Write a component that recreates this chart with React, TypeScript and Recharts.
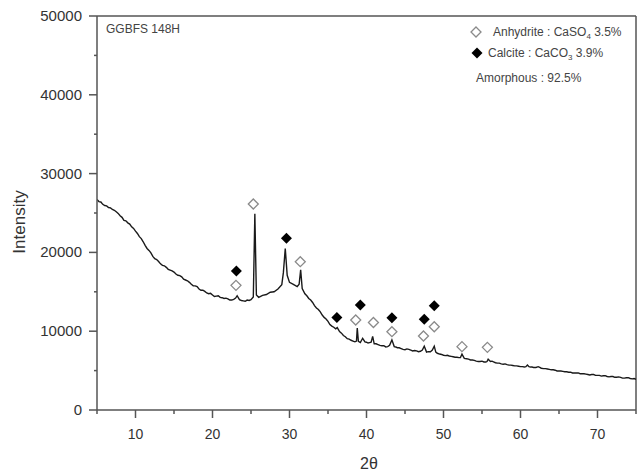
import React from 'react';
import { ComposedChart, Line, Scatter, XAxis, YAxis, ReferenceLine } from 'recharts';

// XRD scan, [2theta, intensity]
const scan: [number, number][] = [
  [5.0, 26700], [5.25, 26450], [5.5, 26400], [5.75, 26100], [6.0, 25950], [6.25, 25900], [6.5, 25700],
  [6.75, 25650], [7.0, 25450], [7.25, 25350], [7.5, 25150], [7.75, 24950], [8.0, 24650], [8.25, 24450],
  [8.5, 24050], [8.75, 24000], [9.0, 23750], [9.25, 23600], [9.5, 23250], [9.75, 23050], [10.0, 22700],
  [10.25, 22400], [10.5, 22000], [10.75, 21750], [11.0, 21350], [11.25, 20900], [11.5, 20500], [11.75, 20250],
  [12.0, 19950], [12.25, 19500], [12.5, 19200], [12.75, 19100], [13.0, 18850], [13.25, 18550], [13.5, 18350],
  [13.75, 18300], [14.0, 18100], [14.25, 17850], [14.5, 17750], [14.75, 17650], [15.0, 17500], [15.25, 17250],
  [15.5, 17100], [15.75, 17050], [16.0, 16900], [16.25, 16600], [16.5, 16500], [16.75, 16400], [17.0, 16200],
  [17.25, 15950], [17.5, 15750], [17.75, 15750], [18.0, 15650], [18.25, 15350], [18.5, 15200], [18.75, 15200],
  [19.0, 15050], [19.25, 14850], [19.5, 14750], [19.75, 14800], [20.0, 14600], [20.25, 14400], [20.5, 14450],
  [20.75, 14500], [21.0, 14300], [21.25, 14250], [21.5, 14150], [21.75, 14200], [22.0, 14100], [22.25, 13950],
  [22.5, 13950], [22.75, 14050], [23.0, 14200], [23.2, 14500], [23.5, 14000], [23.75, 13900], [24.0, 13850],
  [24.25, 13800], [24.5, 13950], [24.75, 13900], [25.0, 14000], [25.3, 14350], [25.5, 24900], [25.7, 14600],
  [26.0, 14300], [26.5, 14550], [27.0, 14650], [27.5, 14950], [28.0, 15000], [28.5, 15350], [29.0, 15900],
  [29.2, 17400], [29.45, 20500], [29.7, 17100], [30.0, 16200], [30.5, 15950], [31.0, 15650], [31.25, 15950],
  [31.45, 17800], [31.65, 15400], [32.0, 14750], [32.25, 14500], [32.5, 14150], [32.75, 13950], [33.0, 13650],
  [33.25, 13250], [33.5, 12950], [33.75, 12750], [34.0, 12450], [34.25, 12050], [34.5, 11750], [34.75, 11550],
  [35.0, 11250], [35.25, 10850], [35.5, 10650], [35.75, 10500], [36.0, 10300], [36.2, 10450], [36.5, 9950],
  [36.75, 9750], [37.0, 9450], [37.25, 9300], [37.5, 9050], [37.75, 9000], [38.0, 8850], [38.25, 8750],
  [38.5, 8650], [38.7, 8750], [38.8, 10400], [38.95, 8700], [39.2, 8550], [39.5, 9100], [39.8, 8650],
  [40.0, 8600], [40.2, 8500], [40.4, 8550], [40.6, 8600], [40.8, 9350], [41.0, 8400], [41.25, 8400],
  [41.5, 8300], [41.75, 8200], [42.0, 8150], [42.25, 8150], [42.5, 8000], [42.75, 8050], [43.0, 8200],
  [43.3, 8900], [43.6, 8050], [43.8, 8000], [44.0, 7900], [44.25, 7900], [44.5, 7800], [44.75, 7700],
  [45.0, 7650], [45.25, 7750], [45.5, 7700], [45.75, 7600], [46.0, 7500], [46.25, 7550], [46.5, 7500],
  [46.75, 7400], [47.0, 7450], [47.25, 7600], [47.5, 8100], [47.8, 7350], [48.0, 7400], [48.3, 7400],
  [48.55, 7600], [48.8, 8100], [49.0, 7350], [49.2, 7200], [49.5, 7100], [49.75, 7050], [50.0, 6950],
  [50.25, 6900], [50.5, 6950], [50.75, 6850], [51.0, 6800], [51.25, 6750], [51.5, 6700], [51.75, 6700],
  [52.0, 6650], [52.2, 6650], [52.4, 7100], [52.7, 6550], [53.0, 6500], [53.25, 6450], [53.5, 6350],
  [53.75, 6350], [54.0, 6300], [54.25, 6200], [54.5, 6150], [54.75, 6150], [55.0, 6200], [55.25, 6100],
  [55.5, 6100], [55.65, 6150], [55.8, 6450], [56.1, 6150], [56.3, 6200], [56.5, 6100], [56.75, 6000],
  [57.0, 5950], [57.25, 5950], [57.5, 5850], [57.75, 5800], [58.0, 5850], [58.25, 5750], [58.5, 5700],
  [58.75, 5700], [59.0, 5650], [59.25, 5600], [59.5, 5600], [59.75, 5550], [60.0, 5500], [60.25, 5500],
  [60.5, 5450], [60.7, 5500], [60.9, 5700], [61.1, 5500], [61.3, 5450], [61.5, 5450], [61.7, 5400],
  [62.0, 5400], [62.3, 5500], [62.5, 5400], [62.7, 5300], [63.0, 5250], [63.25, 5250], [63.5, 5200],
  [63.75, 5150], [64.0, 5100], [64.25, 5100], [64.5, 5050], [64.75, 4950], [65.0, 4950], [65.25, 4950],
  [65.5, 4900], [65.75, 4850], [66.0, 4850], [66.25, 4800], [66.5, 4800], [66.75, 4700], [67.0, 4700],
  [67.25, 4700], [67.5, 4700], [67.75, 4600], [68.0, 4600], [68.25, 4600], [68.5, 4550], [68.75, 4500],
  [69.0, 4450], [69.25, 4500], [69.5, 4500], [69.75, 4400], [70.0, 4400], [70.25, 4400], [70.5, 4300],
  [70.75, 4350], [71.0, 4350], [71.25, 4250], [71.5, 4200], [71.75, 4250], [72.0, 4250], [72.25, 4150],
  [72.5, 4150], [72.75, 4200], [73.0, 4150], [73.25, 4050], [73.5, 4050], [73.75, 4100], [74.0, 4100],
  [74.25, 4000], [74.5, 3950], [74.75, 4000], [75.0, 3900],
];

// phase markers, [2theta, marker height]
const anhydrite: [number, number][] = [
  [23.05, 15820], [25.3, 26140], [31.4, 18820], [38.6, 11420], [40.9, 11100],
  [43.3, 9940], [47.4, 9390], [48.8, 10570], [52.4, 8040], [55.7, 7950],
];
const calcite: [number, number][] = [
  [23.1, 17640], [29.6, 21790], [36.15, 11740], [39.2, 13320], [43.3, 11710], [47.5, 11510], [48.8, 13240],
];

const xTicks = [5, 10, 15, 20, 25, 30, 35, 40, 45, 50, 55, 60, 65, 70, 75];
const yTicks = [0, 5000, 10000, 15000, 20000, 25000, 30000, 35000, 40000, 45000, 50000];

const scanData = scan.map(([x, y]) => ({ x, y }));
const anhydriteData = anhydrite.map(([x, y]) => ({ x, y }));
const calciteData = calcite.map(([x, y]) => ({ x, y }));

const AXIS = '#555';
const FONT = '"Liberation Sans", Arial, sans-serif';

function XTick({ x, y, payload }: any) {
  const major = payload.value % 10 === 0;
  return (
    <g>
      <line x1={x} y1={y} x2={x} y2={y + (major ? 8 : 4)} stroke={AXIS} strokeWidth={1.5} />
      {major && (
        <text x={x} y={y + 29} textAnchor="middle" fontSize={14} fill="#333" fontFamily={FONT}>
          {payload.value}
        </text>
      )}
    </g>
  );
}

function YTick({ x, y, payload }: any) {
  const major = payload.value % 10000 === 0;
  return (
    <g>
      <line x1={x} y1={y} x2={x - (major ? 8 : 3)} y2={y} stroke={AXIS} strokeWidth={1.5} />
      {major && (
        <text x={x - 15} y={y + 5} textAnchor="end" fontSize={15} fill="#333" fontFamily={FONT}>
          {payload.value}
        </text>
      )}
    </g>
  );
}

const OpenDiamond = ({ cx, cy }: any) => (
  <polygon
    points={`${cx},${cy - 5} ${cx + 5},${cy} ${cx},${cy + 5} ${cx - 5},${cy}`}
    fill="#fff"
    stroke="#8a8a8a"
    strokeWidth={1.3}
  />
);

const FilledDiamond = ({ cx, cy }: any) => (
  <polygon
    points={`${cx},${cy - 5.5} ${cx + 5.5},${cy} ${cx},${cy + 5.5} ${cx - 5.5},${cy}`}
    fill="#000"
  />
);

export default function App() {
  return (
    <div style={{ position: 'absolute', left: 0, top: 0, width: 643, height: 472, background: '#fff' }}>
      <ComposedChart
        width={643}
        height={472}
        data={scanData}
        margin={{ top: 16, right: 7, bottom: 0, left: 0 }}
      >
        <XAxis
          dataKey="x"
          type="number"
          domain={[5, 75]}
          ticks={xTicks}
          interval={0}
          height={62}
          tickSize={0}
          tickMargin={0}
          tickLine={false}
          tick={<XTick />}
          axisLine={{ stroke: AXIS, strokeWidth: 1.5 }}
          allowDataOverflow
        />
        <YAxis
          type="number"
          domain={[0, 50000]}
          ticks={yTicks}
          interval={0}
          width={97}
          tickSize={0}
          tickMargin={0}
          tickLine={false}
          tick={<YTick />}
          axisLine={{ stroke: AXIS, strokeWidth: 1.5 }}
          allowDataOverflow
        />
        <ReferenceLine y={50000} stroke={AXIS} strokeWidth={1.5} />
        <ReferenceLine x={75} stroke={AXIS} strokeWidth={1.5} />
        <Line
          dataKey="y"
          type="linear"
          stroke="#1a1a1a"
          strokeWidth={1.4}
          dot={false}
          activeDot={false}
          isAnimationActive={false}
        />
        <Scatter data={anhydriteData} dataKey="y" shape={<OpenDiamond />} isAnimationActive={false} />
        <Scatter data={calciteData} dataKey="y" shape={<FilledDiamond />} isAnimationActive={false} />
      </ComposedChart>
      <svg
        width={643}
        height={472}
        style={{ position: 'absolute', left: 0, top: 0, pointerEvents: 'none' }}
        fontFamily={FONT}
      >
        <text x={106} y={33} fontSize={12} fill="#444">GGBFS 148H</text>
        <OpenDiamond cx={476} cy={32} />
        <text x={493} y={36} fontSize={12} fill="#444">
          Anhydrite : CaSO<tspan fontSize={8} dy={3}>4</tspan>
          <tspan dy={-3}> 3.5%</tspan>
        </text>
        <FilledDiamond cx={477} cy={53} />
        <text x={488} y={57} fontSize={12} fill="#444">
          Calcite : CaCO<tspan fontSize={8} dy={3}>3</tspan>
          <tspan dy={-3}> 3.9%</tspan>
        </text>
        <text x={476} y={82} fontSize={12} fill="#444">Amorphous : 92.5%</text>
        <text
          x={0}
          y={0}
          transform="translate(25 222) rotate(-90)"
          textAnchor="middle"
          fontSize={17}
          fill="#333"
        >
          Intensity
        </text>
        <text x={369} y={469} textAnchor="middle" fontSize={16} fill="#333">
          2θ
        </text>
      </svg>
    </div>
  );
}
